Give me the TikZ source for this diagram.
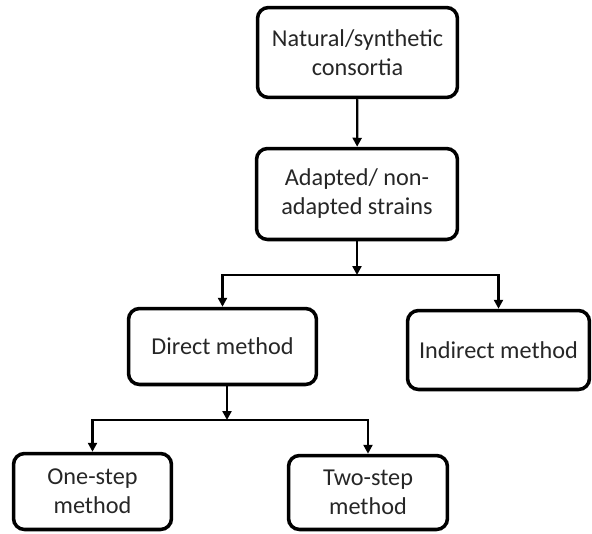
\documentclass[tikz,border=0pt]{standalone}
\usepackage{fontspec}
\setmainfont{Carlito}
\usetikzlibrary{positioning,arrows.meta,calc}

\begin{document}
\begin{tikzpicture}[x=0.02cm,y=-0.02cm,font=\fontsize{13.8}{16.5}\selectfont,
    box/.style={draw, line width=2pt, rounded corners=0.22cm, align=center,
      inner sep=0pt, text=black!85},
    link/.style={line width=1.3pt, -{Triangle[length=1.8mm,width=1.8mm]}}]
        \useasboundingbox (0,0) rectangle (592,534);
        % boxes
        \node[box, minimum width=4.0cm, minimum height=1.80cm] (consortia) at (357.5,52.5) {Natural/synthetic\\consortia};
        \node[box, minimum width=4.02cm, minimum height=1.82cm] (strains) at (357,194) {Adapted/ non-\\adapted strains};
        \node[box, minimum width=3.76cm, minimum height=1.52cm] (direct) at (222.5,346.5) {Direct method};
        \node[box, minimum width=3.64cm, minimum height=1.58cm] (indirect) at (498.5,350) {Indirect method};
        \node[box, minimum width=3.16cm, minimum height=1.52cm] (onestep) at (92.5,491.5) {One-step\\method};
        \node[box, minimum width=3.18cm, minimum height=1.48cm] (twostep) at (368,492.5) {Two-step\\method};
        % forks
        \coordinate (fork1) at (357,275);
        \coordinate (fork2) at (227,420);
        % arrows
        \draw[link] (consortia) -- (strains);
        \draw[link] (strains) -- (fork1);
        \draw[link] (fork1) -| (direct);
        \draw[link] (fork1) -| (indirect);
        \draw[link] (direct.south -| fork2) -- (fork2);
        \draw[link] (fork2) -| (onestep);
        \draw[link] (fork2) -| (twostep);
      \end{tikzpicture}
\end{document}
